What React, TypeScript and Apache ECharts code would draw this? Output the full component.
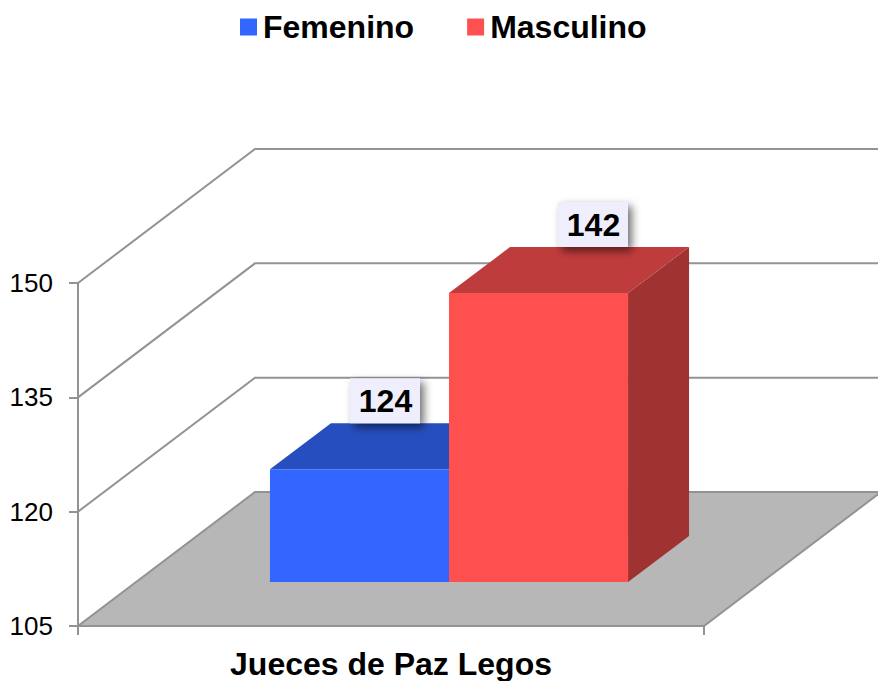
import React, { useEffect, useRef } from "react";
import * as echarts from "echarts";

const categories = ["Jueces de Paz Legos"];
const seriesNames = ["Femenino", "Masculino"];
const barHeights = [119.8, 142.9];
const barLabels = [124, 142];
const gridTicks = [120, 135, 150];

const FONT = '"Liberation Sans", Arial, sans-serif';
const WALL_DX = 177;
const WALL_DY = -134;
const BAR_DX = 61;
const BAR_DY = -46;
const PLANE_DX = 58;
const PLANE_DY = -44;
const GRID_COLOR = "#939393";
const BAR_W_RATIO = 0.286;
const colors = [
  { front: "#3366FF", top: "#264EBE", side: "#1F3F9C" },
  { front: "#FF5050", top: "#BF3C3C", side: "#A13232" },
];
const labelBox = [
  { x: 350, w: 70 },
  { x: 558, w: 70 },
];

function renderWall(_params: any, api: any) {
  const [x0, y] = api.coord([0, api.value(0)]);
  const left = x0 - api.size([1, 0])[0] / 2;
  return {
    type: "polyline",
    shape: {
      points: [
        [left, y],
        [left + WALL_DX, y + WALL_DY],
        [api.getWidth(), y + WALL_DY],
      ],
    },
    style: { fill: "none", stroke: GRID_COLOR, lineWidth: 2 },
  };
}

function renderFloor(_params: any, api: any) {
  const [cx, y] = api.coord([0, 105]);
  const w = api.size([1, 0])[0];
  const left = cx - w / 2;
  return {
    type: "polygon",
    shape: {
      points: [
        [left, y],
        [left + w, y],
        [left + w + WALL_DX, y + WALL_DY],
        [left + WALL_DX, y + WALL_DY],
      ],
    },
    style: { fill: "#B7B7B7", stroke: GRID_COLOR, lineWidth: 2 },
  };
}

function makeBarRenderer(index: number) {
  return (_params: any, api: any) => {
    const c = colors[index];
    const [cx] = api.coord([0, 105]);
    const bw = api.size([1, 0])[0] * BAR_W_RATIO;
    const x0 = cx + PLANE_DX + (index - 1) * bw;
    const x1 = x0 + bw;
    const yb = api.coord([0, 105])[1] + PLANE_DY;
    const yt = api.coord([0, api.value(1)])[1] + PLANE_DY;
    return {
      type: "group",
      children: [
        {
          type: "polygon",
          shape: { points: [[x1, yt], [x1 + BAR_DX, yt + BAR_DY], [x1 + BAR_DX, yb + BAR_DY], [x1, yb]] },
          style: { fill: c.side },
        },
        {
          type: "polygon",
          shape: { points: [[x0, yt], [x1, yt], [x1 + BAR_DX, yt + BAR_DY], [x0 + BAR_DX, yt + BAR_DY]] },
          style: { fill: c.top },
        },
        {
          type: "rect",
          shape: { x: x0, y: yt, width: bw, height: yb - yt },
          style: { fill: c.front },
        },
      ],
    };
  };
}

function makeLabelRenderer(index: number) {
  return (_params: any, api: any) => {
    const yt = api.coord([0, api.value(1)])[1] + PLANE_DY + BAR_DY;
    const box = labelBox[index];
    const h = 45;
    return {
      type: "group",
      children: [
        {
          type: "rect",
          shape: { x: box.x, y: yt - h, width: box.w, height: h },
          style: {
            fill: "#EEEEFC",
            shadowColor: "rgba(0,0,0,0.55)",
            shadowBlur: 8,
            shadowOffsetX: 4,
            shadowOffsetY: 4,
          },
        },
        {
          type: "text",
          style: {
            x: box.x + box.w / 2 + 0.5,
            y: yt - h / 2,
            text: String(barLabels[index]),
            fill: "#000000",
            font: `bold 32px ${FONT}`,
            align: "center",
            verticalAlign: "middle",
          },
        },
      ],
    };
  };
}

export default function App() {
  const ref = useRef<HTMLDivElement>(null);
  useEffect(() => {
    const chart = echarts.init(ref.current!, undefined, { renderer: "svg" });
    chart.setOption({
      animation: false,
      backgroundColor: "#ffffff",
      legend: {
        left: 235,
        top: 6,
        itemWidth: 17,
        itemHeight: 17,
        itemGap: 53,
        icon: "rect",
        data: seriesNames,
        textStyle: { fontFamily: FONT, fontWeight: "bold", fontSize: 32, color: "#000000", padding: [0, 0, 0, 1] },
      },
      grid: { left: 78, right: 174, top: 283, bottom: 55 },
      xAxis: {
        type: "category",
        data: categories,
        z: 10,
        axisLine: { lineStyle: { color: GRID_COLOR, width: 2 } },
        axisTick: { show: true, length: 9, alignWithLabel: false, lineStyle: { color: GRID_COLOR, width: 2 } },
        axisLabel: { margin: 22, color: "#000000", fontFamily: FONT, fontWeight: "bold", fontSize: 32 },
      },
      yAxis: {
        type: "value",
        min: 105,
        max: 150,
        interval: 15,
        z: 10,
        splitLine: { show: false },
        axisLine: { show: true, lineStyle: { color: GRID_COLOR, width: 2 } },
        axisTick: { show: true, length: 9, lineStyle: { color: GRID_COLOR, width: 2 } },
        axisLabel: { margin: 25, color: "#000000", fontFamily: FONT, fontSize: 26 },
      },
      series: [
        {
          name: "floor",
          type: "custom",
          z: 1,
          silent: true,
          renderItem: renderFloor,
          encode: { x: 1, y: 0 },
          data: [[105, 0]],
        },
        {
          name: "walls",
          type: "custom",
          z: 1,
          silent: true,
          renderItem: renderWall,
          encode: { x: 1, y: 0 },
          data: gridTicks.map((t) => [t, 0]),
        },
        ...seriesNames.map((name, i) => ({
          name,
          type: "custom",
          z: 3 + i,
          renderItem: makeBarRenderer(i),
          encode: { x: 0, y: 1 },
          itemStyle: { color: colors[i].front },
          data: [[0, barHeights[i]]],
        })),
        ...seriesNames.map((name, i) => ({
          name: name + " label",
          type: "custom",
          z: 6,
          renderItem: makeLabelRenderer(i),
          encode: { x: 0, y: 1 },
          data: [[0, barHeights[i]]],
        })),
      ],
    });
    return () => chart.dispose();
  }, []);
  return <div ref={ref} style={{ position: "fixed", left: 0, top: 0, width: 878, height: 681 }} />;
}
